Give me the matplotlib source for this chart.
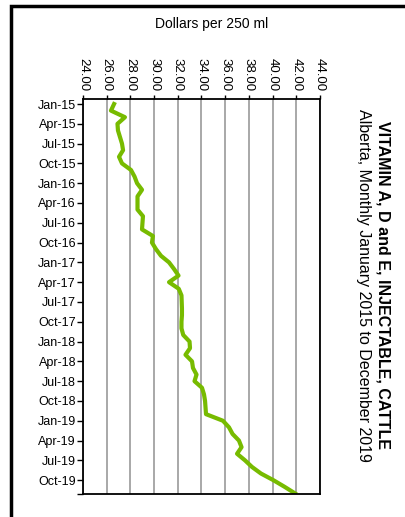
import matplotlib
matplotlib.use("Agg")
import matplotlib.pyplot as plt
from matplotlib.patches import Rectangle

plt.rcParams["font.family"] = ["Liberation Sans", "DejaVu Sans"]

# monthly price, January 2015 .. December 2019 (dollars per 250 ml)
prices = [
    26.62, 26.36, 27.54, 26.91, 26.95, 27.12, 27.29, 27.38, 27.04, 27.29, 28.05, 28.35,
    28.56, 28.98, 28.60, 28.60, 28.60, 29.06, 29.02, 28.98, 29.90, 29.82, 30.16, 30.58,
    31.26, 31.68, 32.06, 31.26, 32.08, 32.31, 32.33, 32.35, 32.35, 32.31, 32.31, 32.46,
    32.99, 33.03, 32.65, 33.20, 33.28, 33.58, 33.41, 34.04, 34.21, 34.30, 34.34, 34.38,
    35.81, 36.32, 36.62, 37.16, 37.38, 37.00, 37.67, 38.26, 39.02, 40.06, 41.00, 41.89,
]
month_labels = [
    "Jan-15", "Apr-15", "Jul-15", "Oct-15", "Jan-16", "Apr-16", "Jul-16", "Oct-16",
    "Jan-17", "Apr-17", "Jul-17", "Oct-17", "Jan-18", "Apr-18", "Jul-18", "Oct-18",
    "Jan-19", "Apr-19", "Jul-19", "Oct-19",
]
price_ticks = [24, 26, 28, 30, 32, 34, 36, 38, 40, 42, 44]

title = "VITAMIN A, D and E, INJECTABLE, CATTLE"
subtitle = "Alberta, Monthly January 2015 to December 2019"
axis_title = "Dollars per 250 ml"

fig = plt.figure(figsize=(4.06, 5.17), dpi=100)
fig.patch.set_facecolor("white")

# outer frame (only left and top edges fall inside the picture)
fig.patches.append(Rectangle((11 / 406, -0.1), 1.2, (517 - 6) / 517 + 0.1,
                             transform=fig.transFigure, fill=False,
                             edgecolor="black", linewidth=2.5))

ax = fig.add_axes([83 / 406, 23 / 517, 237 / 406, 395 / 517])

months = list(range(len(prices)))
ax.plot(prices, months, color="#77BB00", linewidth=3, solid_joinstyle="round")

ax.set_xlim(24, 44)
ax.set_ylim(59.1, -0.76)

ax.xaxis.tick_top()
ax.set_xticks(price_ticks)
ax.set_xticklabels([f"{t:.2f}" for t in price_ticks], rotation=-90, fontsize=9.5)
ax.tick_params(axis="x", length=3, width=1, pad=3, color="black")

ax.set_yticks(range(0, len(prices), 3))
ax.set_yticklabels(month_labels, fontsize=9)
ax.set_yticks([59.1], minor=True)
ax.tick_params(axis="y", which="both", length=4, width=1, pad=1, color="black")

ax.grid(axis="x", color="#999999", linewidth=1.2)
ax.set_axisbelow(True)
for s in ax.spines.values():
    s.set_linewidth(1.3)
    s.set_color("black")

fig.text(212 / 406, 1 - 24 / 517, axis_title, ha="center", va="center", fontsize=10)
fig.text(383 / 406, 1 - 285 / 517, title, rotation=-90, ha="center", va="center",
         fontsize=11.5, fontweight="bold")
fig.text(363 / 406, 1 - 285 / 517, subtitle, rotation=-90, ha="center", va="center",
         fontsize=11.5)

fig.savefig("out.png", dpi=100)
